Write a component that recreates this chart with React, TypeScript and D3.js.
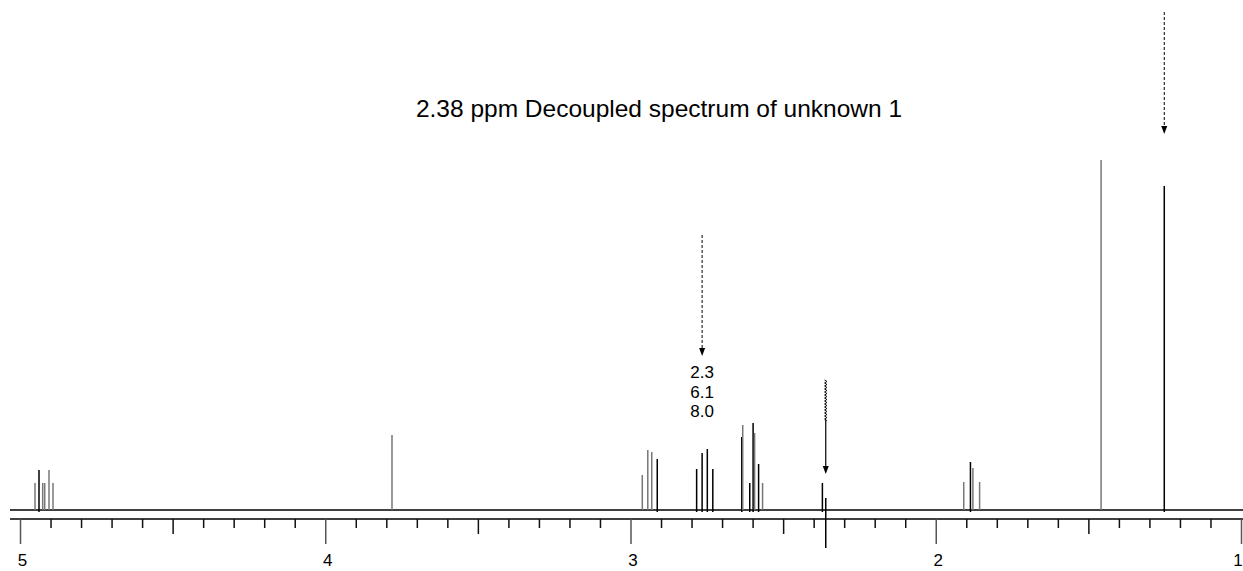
import * as d3 from "d3";
import { useEffect, useRef } from "react";

// peak positions (ppm), heights (arbitrary intensity) and pen colour
const peakPpm = [
  4.9525, 4.9394, 4.9273, 4.9207, 4.9066, 4.8935,
  3.783,
  2.963, 2.945, 2.932, 2.914,
  2.785, 2.767, 2.75, 2.732,
  2.637, 2.634, 2.611, 2.6, 2.595, 2.582, 2.569,
  2.373,
  1.91, 1.888, 1.88, 1.858,
  1.46, 1.253,
];
const peakHeight = [
  27, 40, 27, 27, 40, 27,
  75,
  35, 60, 58, 51,
  41, 57, 61, 41,
  73, 85, 27, 87, 77, 46, 27,
  27,
  28, 48, 42, 28,
  350, 324,
];
const peakPen = [
  "g", "k", "g", "g", "g", "g",
  "g",
  "g", "g", "g", "k",
  "k", "k", "k", "k",
  "k", "g", "k", "k", "g", "k", "g",
  "k",
  "g", "k", "g", "g",
  "g", "k",
];

const majorTicks = [5, 4, 3, 2, 1];
const integrals = ["2.3", "6.1", "8.0"];
const irradiatedPpm = 2.362;
const title = "2.38 ppm Decoupled spectrum of unknown 1";

const App = () => {
  const ref = useRef<SVGSVGElement>(null);

  useEffect(() => {
    const svg = d3.select(ref.current);
    svg.selectAll("*").remove();

    const width = 1243, height = 571;
    const baseY = 510, axisY = 519;
    const font = "Liberation Sans, Arial, sans-serif";

    const x = d3.scaleLinear().domain([5, 1]).range([20.5, 1241.5]);
    const y = d3.scaleLinear().domain([0, 350]).range([baseY, 160]);

    svg.attr("width", width).attr("height", height);

    // baseline + axis line
    svg.append("line").attr("x1", 10).attr("x2", width)
      .attr("y1", baseY).attr("y2", baseY).attr("stroke", "#000").attr("stroke-width", 1.5);
    svg.append("line").attr("x1", 10).attr("x2", width)
      .attr("y1", axisY).attr("y2", axisY).attr("stroke", "#000").attr("stroke-width", 1.5);

    // ticks every 0.1 ppm
    const ticks = d3.range(0, 41).map((i) => 5 - i * 0.1);
    svg.append("g").selectAll("line").data(ticks).join("line")
      .attr("x1", (d) => x(d)).attr("x2", (d) => x(d))
      .attr("y1", axisY)
      .attr("y2", (_, i) => (i % 10 === 0 ? 544 : i % 5 === 0 ? 534 : 528))
      .attr("stroke", (_, i) => (i % 10 === 0 ? "#555" : "#111"))
      .attr("stroke-width", 1.5);

    // labels; the last one sits at the right edge, as in the original
    svg.append("g").selectAll("text").data(majorTicks).join("text")
      .attr("x", (d) => Math.min(x(d) + 2, width - 5)).attr("y", 566)
      .attr("text-anchor", "middle")
      .attr("font-family", font)
      .attr("font-size", 17)
      .text((d) => d);

    // peaks
    svg.append("g").selectAll("line").data(peakPpm).join("line")
      .attr("x1", (d) => x(d)).attr("x2", (d) => x(d))
      .attr("y1", (_, i) => (peakPen[i] === "k" ? baseY + 2 : baseY))
      .attr("y2", (_, i) => y(peakHeight[i]))
      .attr("stroke", (_, i) => (peakPen[i] === "k" ? "#000" : "#777"))
      .attr("stroke-width", 1.5);

    // irradiation marker through the axis
    svg.append("line")
      .attr("x1", x(irradiatedPpm)).attr("x2", x(irradiatedPpm))
      .attr("y1", 498).attr("y2", 548)
      .attr("stroke", "#000").attr("stroke-width", 1.5);

    const arrowHead = (cx: number, tipY: number) => {
      svg.append("path")
        .attr("d", `M${cx - 3},${tipY - 8}L${cx + 3},${tipY - 8}L${cx},${tipY}Z`)
        .attr("fill", "#000");
    };

    // dashed arrows
    const dashed = [
      { ppm: 2.767, y1: 235, y2: 356 },
      { ppm: 1.253, y1: 12, y2: 134 },
    ];
    dashed.forEach((a) => {
      svg.append("line")
        .attr("x1", x(a.ppm)).attr("x2", x(a.ppm))
        .attr("y1", a.y1).attr("y2", a.y2 - 6)
        .attr("stroke", "#000").attr("stroke-width", 1)
        .attr("stroke-dasharray", "3,2");
      arrowHead(x(a.ppm), a.y2);
    });

    // wavy arrow
    const ax = x(irradiatedPpm);
    const wave = d3.range(380, 421, 1.5).map((yy, i) => [ax + (i % 2 ? 1.2 : -1.2), yy] as [number, number]);
    svg.append("path")
      .attr("d", d3.line()(wave))
      .attr("fill", "none").attr("stroke", "#000").attr("stroke-width", 1);
    svg.append("line")
      .attr("x1", ax).attr("x2", ax).attr("y1", 420).attr("y2", 468)
      .attr("stroke", "#000").attr("stroke-width", 1.2);
    arrowHead(ax, 474);

    // integrals
    svg.append("g").selectAll("text").data(integrals).join("text")
      .attr("x", x(2.767)).attr("y", (_, i) => 378 + i * 19.5)
      .attr("text-anchor", "middle")
      .attr("font-family", font)
      .attr("font-size", 17)
      .text((d) => d);

    svg.append("text")
      .attr("x", 659).attr("y", 117)
      .attr("text-anchor", "middle")
      .attr("font-family", font)
      .attr("font-size", 24.5)
      .text(title);
  }, []);

  return (
    <svg ref={ref} style={{ position: "absolute", left: 0, top: 0, background: "#fff" }} />
  );
};

export default App;
